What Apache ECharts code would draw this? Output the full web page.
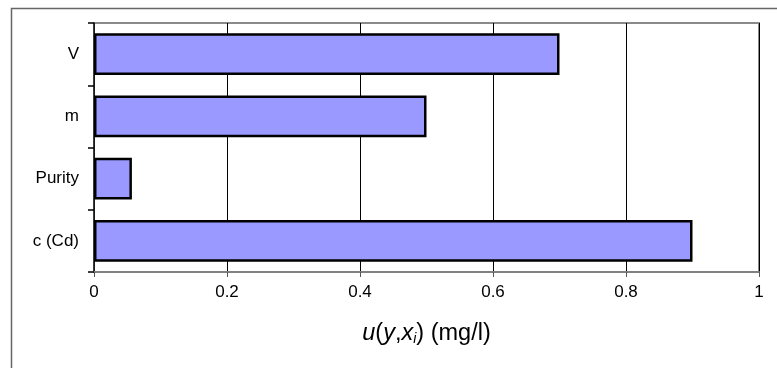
<!DOCTYPE html>
<html><head><meta charset="utf-8">
<script src="https://cdn.jsdelivr.net/npm/echarts@6/dist/echarts.min.js"></script>
<style>html,body{margin:0;padding:0;background:#fff}#c{width:777px;height:368px}</style>
</head><body><div id="c"></div>
<script>
const categories = ['c (Cd)', 'Purity', 'm', 'V'];
const values = [0.90, 0.057, 0.50, 0.70];
const xTicks = [0, 0.2, 0.4, 0.6, 0.8, 1];

const chart = echarts.init(document.getElementById('c'));
chart.setOption({
  animation: false,
  backgroundColor: '#fff',
  graphic: [{
    type: 'rect', left: 9, top: 6, z: -10,
    shape: { width: 800, height: 400 },
    style: { fill: 'none', stroke: '#666', lineWidth: 1.5 }
  }],
  grid: { left: 94, top: 23, right: 18, bottom: 96, show: true, borderColor: '#8a8a8a', borderWidth: 2, backgroundColor: '#fff' },
  xAxis: {
    type: 'value', min: 0, max: 1, interval: 0.2,
    axisLine: { show: true, lineStyle: { color: '#808080', width: 2 } },
    axisTick: { show: true, length: 5, lineStyle: { color: '#555' } },
    splitLine: { show: true, lineStyle: { color: '#000', width: 1 } },
    axisLabel: { color: '#000', fontSize: 17, fontFamily: 'Liberation Sans, Arial', margin: 12,
      formatter: v => String(+v.toFixed(1)) },
    name: '{it|u}{n|(}{it|y}{n|,}{it|x}{sub|i}{n|) (mg/l)}',
    nameLocation: 'middle', nameGap: 49,
    nameTextStyle: { rich: {
      it: { fontStyle: 'italic', fontSize: 23.5, fontFamily: 'Liberation Sans, Arial', color: '#000' },
      n: { fontSize: 23.5, fontFamily: 'Liberation Sans, Arial', color: '#000' },
      sub: { fontStyle: 'italic', fontSize: 14, fontFamily: 'Liberation Sans, Arial', color: '#000', verticalAlign: 'bottom', padding: [11, 0, 0, 0] }
    } }
  },
  yAxis: {
    type: 'category', data: categories,
    axisLine: { show: true, lineStyle: { color: '#222', width: 1.5 } },
    axisTick: { show: true, length: 6, lineStyle: { color: '#000', width: 1.5 } },
    axisLabel: { color: '#000', fontSize: 17, fontFamily: 'Liberation Sans, Arial', margin: 15 }
  },
  series: [{
    type: 'bar', data: values, barCategoryGap: '33%',
    itemStyle: { color: '#9999ff', borderColor: '#000', borderWidth: 2.5 }
  }]
});
</script></body></html>
